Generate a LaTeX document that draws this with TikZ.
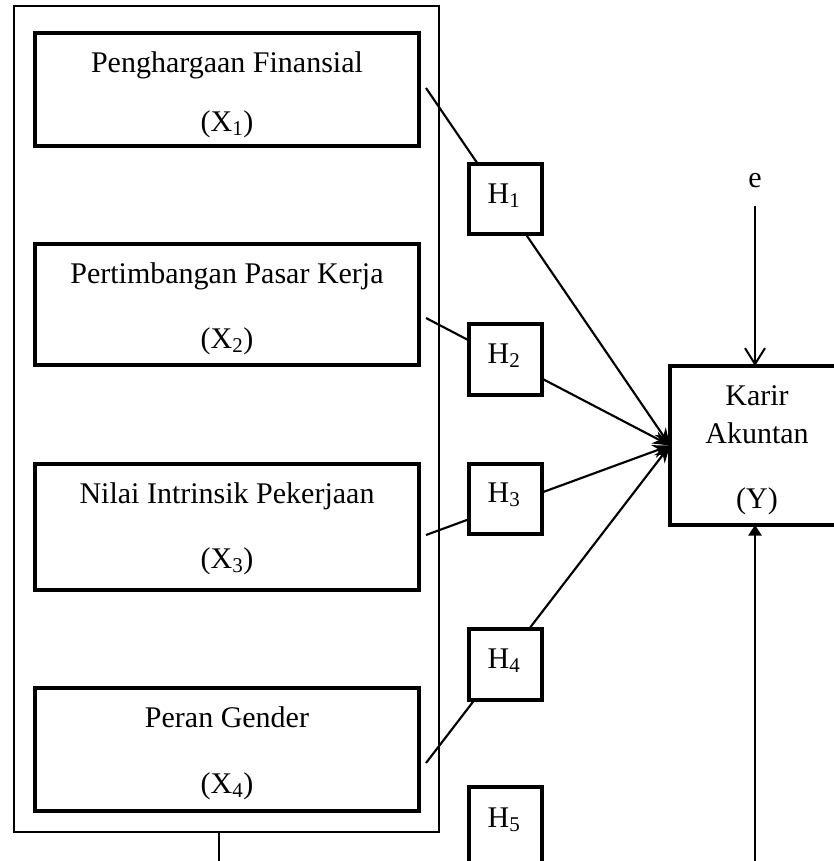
\documentclass[tikz,border=0pt]{standalone}
\usepackage{fontspec}
\setmainfont{Liberation Serif}
\usetikzlibrary{arrows.meta,calc}
\begin{document}
\begin{tikzpicture}[x=0.75pt,y=-0.75pt,
  font=\fontsize{22.5}{27}\selectfont,
  frame/.style={draw, line width=1.5pt, inner sep=0pt, outer sep=0pt},
  xbox/.style={draw, line width=3.2pt, inner sep=0pt, outer sep=0pt, minimum width=288pt, fill=white},
  hbox/.style={draw, line width=3.2pt, inner sep=0pt, outer sep=0pt, minimum width=54.75pt, minimum height=53pt, fill=white},
  lbl/.style={anchor=base, inner sep=0pt},
  conn/.style={line width=1.6pt, -{Stealth[length=13pt,width=10pt]}},
  earrow/.style={line width=1.5pt, -{Straight Barb[length=12pt,width=15pt]}},
  triarrow/.style={line width=1.5pt, -{Triangle[length=8pt,width=10pt]}},
  thinline/.style={line width=1.5pt}]
\useasboundingbox (0,0) rectangle (834,861);
\clip (0,0) rectangle (834,861);

% group frame
\node[frame, minimum width=318.75pt, minimum height=619.5pt] (G) at (226.5,419) {};

% independent variable boxes
\node[xbox, minimum height=84.75pt] (X1) at (227,89.5) {};
\node[xbox, minimum height=90.75pt] (X2) at (227,304.5) {};
\node[xbox, minimum height=94.5pt]  (X3) at (227,527) {};
\node[xbox, minimum height=92.25pt] (X4) at (227,749.5) {};

\node[lbl] (t1) at (227,72)  {Penghargaan Finansial};
\node[lbl] (s1) at (227,131) {(X\textsubscript{1})};
\node[lbl] (t2) at (227,283) {Pertimbangan Pasar Kerja};
\node[lbl] (s2) at (227,348) {(X\textsubscript{2})};
\node[lbl] (t3) at (227,503) {Nilai Intrinsik Pekerjaan};
\node[lbl] (s3) at (227,568) {(X\textsubscript{3})};
\node[lbl] (t4) at (227,727) {Peran Gender};
\node[lbl] (s4) at (227,793) {(X\textsubscript{4})};

% dependent variable box
\node[draw, line width=3.2pt, inner sep=0pt, outer sep=0pt, minimum width=130.5pt, minimum height=119.25pt] (Y) at (757,445.5) {};
\node[lbl] (yt1) at (757,405) {Karir};
\node[lbl] (yt2) at (757,443) {Akuntan};
\node[lbl] (yt3) at (757,508) {(Y)};

% connector start points
\coordinate (a1) at (426,88);
\coordinate (a2) at (426,318);
\coordinate (a3) at (426,535);
\coordinate (a4) at (426,763);

\draw[conn] (a1) -- (Y.west);
\draw[conn] (a2) -- (Y.west);
\draw[conn] (a3) -- (Y.west);
\draw[conn] (a4) -- (Y.west);

% hypothesis boxes
\node[hbox] (H1) at (505.5,199) {};
\node[hbox] (H2) at (505.5,359.5) {};
\node[hbox] (H3) at (505.5,499) {};
\node[hbox] (H4) at (505.5,664.5) {};
\node[hbox, minimum height=59.25pt] (H5) at (505.5,826.5) {};
\node[lbl] (h1t) at (504,203) {H\textsubscript{1}};
\node[lbl] (h2t) at (504,363) {H\textsubscript{2}};
\node[lbl] (h3t) at (504,502) {H\textsubscript{3}};
\node[lbl] (h4t) at (504,668) {H\textsubscript{4}};
\node[lbl] (h5t) at (504,827) {H\textsubscript{5}};

% error term
\node[lbl] (e) at (755,187) {e};
\draw[earrow] ([yshift=-13.5pt]e.south) -- (e.south |- Y.north);

% bottom connections (cut by the page edge)
\coordinate (gb) at (219,832);
\coordinate (gend) at (219,880);
\draw[thinline] (gb) -- (gend);
\coordinate (ybot) at (755,880);
\draw[triarrow] (ybot) -- (ybot |- Y.south);
\end{tikzpicture}
\end{document}
